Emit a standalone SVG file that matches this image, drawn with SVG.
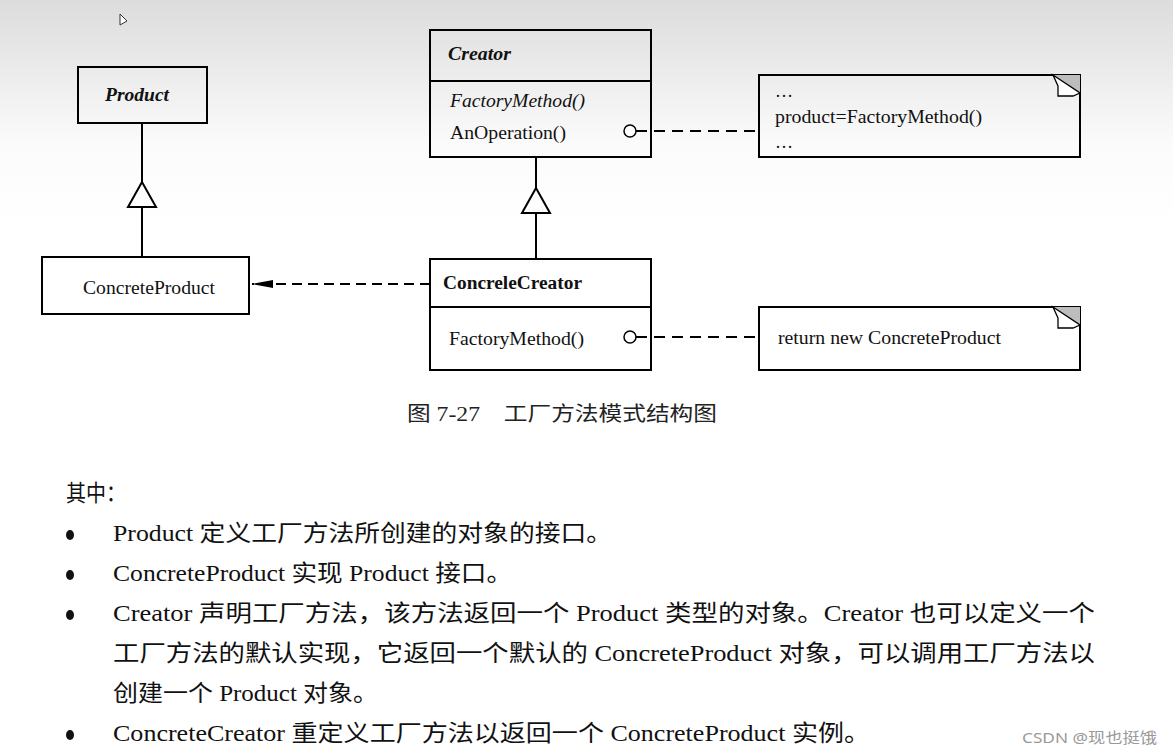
<svg xmlns="http://www.w3.org/2000/svg" width="1173" height="756" viewBox="0 0 1173 756">
<style>
.box{fill:none;stroke:#000;stroke-width:2}
.ln{stroke:#000;stroke-width:2;fill:none}
.dash{stroke:#000;stroke-width:2;fill:none;stroke-dasharray:10 6}
.t{font-family:"Liberation Serif","Noto Sans CJK SC",serif;font-size:18px;fill:#111}
.bi{font-weight:bold;font-style:italic}
.b{font-weight:bold}
.i{font-style:italic}
.body{font-family:"Liberation Serif","Noto Sans CJK SC",serif;font-size:23px;fill:#111}
.cap{font-family:"Liberation Serif","Noto Sans CJK SC",serif;font-size:20px;fill:#222}
.wm{font-family:"Noto Sans","Noto Sans CJK SC",sans-serif;font-size:15px;fill:#999}
.fold{fill:#bdbdbd}
.flap{fill:#fff;stroke:#000;stroke-width:1.3;stroke-linejoin:miter}
</style>
<defs>
<linearGradient id="bg" x1="0" y1="0" x2="0" y2="1">
<stop offset="0" stop-color="#dcdcdc"/>
<stop offset="0.19" stop-color="#fbfbfb"/>
<stop offset="0.3" stop-color="#ffffff"/>
</linearGradient>
<marker id="arr" markerWidth="22" markerHeight="12" refX="21" refY="6" orient="auto" markerUnits="userSpaceOnUse">
<path d="M0,2 L21,6 L0,10 Z" fill="#000"/>
</marker>
</defs>
<rect x="0" y="0" width="1173" height="756" fill="url(#bg)"/>
<path d="M120,14 L120,25 L127,21 Z" fill="#fff" stroke="#333" stroke-width="1"/>

<g id="connectors">
<line class="ln" x1="142" y1="123" x2="142" y2="182"/>
<polygon class="ln" points="142,182 128,207 156,207" fill="#fff"/>
<line class="ln" x1="142" y1="207" x2="142" y2="257"/>
<line class="ln" x1="536" y1="157" x2="536" y2="188"/>
<polygon class="ln" points="536,188 522,213 550,213" fill="#fff"/>
<line class="ln" x1="536" y1="213" x2="536" y2="259"/>
<line class="dash" x1="430" y1="284" x2="252" y2="284" marker-end="url(#arr)"/>
<circle cx="630" cy="131" r="6" fill="#fff" stroke="#000" stroke-width="1.5"/>
<line class="dash" x1="636" y1="131" x2="759" y2="131" style="stroke-dasharray:11 7"/>
<circle cx="630" cy="337" r="6" fill="#fff" stroke="#000" stroke-width="1.5"/>
<line class="dash" x1="636" y1="337" x2="759" y2="337" style="stroke-dasharray:11 7"/>
</g>

<g id="product">
<rect class="box" x="78" y="67" width="129" height="56"/>
<text class="t bi" x="105" y="101" textLength="64" lengthAdjust="spacingAndGlyphs">Product</text>
</g>

<g id="concreteproduct">
<rect class="box" x="42" y="257" width="207" height="57"/>
<text class="t" x="83" y="294" textLength="132" lengthAdjust="spacingAndGlyphs">ConcreteProduct</text>
</g>

<g id="creator">
<rect class="box" x="430" y="30" width="221" height="127"/>
<line class="ln" x1="430" y1="81" x2="651" y2="81"/>
<text class="t bi" x="448" y="60" textLength="63" lengthAdjust="spacingAndGlyphs">Creator</text>
<text class="t i" x="450" y="107" textLength="135" lengthAdjust="spacingAndGlyphs">FactoryMethod()</text>
<text class="t" x="450" y="139" textLength="116" lengthAdjust="spacingAndGlyphs">AnOperation()</text>
</g>

<g id="concretecreator">
<rect class="box" x="430" y="259" width="221" height="111"/>
<line class="ln" x1="430" y1="307" x2="651" y2="307"/>
<text class="t b" x="443" y="289" textLength="139" lengthAdjust="spacingAndGlyphs">ConcreleCreator</text>
<text class="t" x="449" y="345" textLength="135" lengthAdjust="spacingAndGlyphs">FactoryMethod()</text>
</g>

<g id="note1">
<rect class="box" x="759" y="75" width="321" height="82"/>
<polygon class="fold" points="1053,75 1080,75 1080,93"/>
<polygon class="flap" points="1053,75 1080,93 1073,96 1058,96 1058,86"/>
<text class="t" x="775" y="97">…</text>
<text class="t" x="775" y="123" textLength="207" lengthAdjust="spacingAndGlyphs">product=FactoryMethod()</text>
<text class="t" x="775" y="148">…</text>
</g>

<g id="note2">
<rect class="box" x="759" y="307" width="321" height="63"/>
<polygon class="fold" points="1053,307 1080,307 1080,325"/>
<polygon class="flap" points="1053,307 1080,325 1073,328 1058,328 1058,318"/>
<text class="t" x="778" y="344" textLength="223" lengthAdjust="spacingAndGlyphs">return new ConcreteProduct</text>
</g>

<text class="cap" x="407" y="421" textLength="310" lengthAdjust="spacingAndGlyphs">图 7-27　工厂方法模式结构图</text>

<g id="body">
<text class="body" x="66" y="501" textLength="60" lengthAdjust="spacingAndGlyphs">其中：</text>
<ellipse cx="70" cy="535" rx="4" ry="5" fill="#111"/>
<ellipse cx="70" cy="575" rx="4" ry="5" fill="#111"/>
<ellipse cx="70" cy="615" rx="4" ry="5" fill="#111"/>
<ellipse cx="70" cy="735" rx="4" ry="5" fill="#111"/>
<text class="body" x="113" y="541" textLength="499" lengthAdjust="spacingAndGlyphs">Product 定义工厂方法所创建的对象的接口。</text>
<text class="body" x="113" y="581" textLength="399" lengthAdjust="spacingAndGlyphs">ConcreteProduct 实现 Product 接口。</text>
<text class="body" x="113" y="621" textLength="982" lengthAdjust="spacingAndGlyphs">Creator 声明工厂方法，该方法返回一个 Product 类型的对象。Creator 也可以定义一个</text>
<text class="body" x="113" y="661" textLength="982" lengthAdjust="spacingAndGlyphs">工厂方法的默认实现，它返回一个默认的 ConcreteProduct 对象，可以调用工厂方法以</text>
<text class="body" x="113" y="701" textLength="265" lengthAdjust="spacingAndGlyphs">创建一个 Product 对象。</text>
<text class="body" x="113" y="741" textLength="757" lengthAdjust="spacingAndGlyphs">ConcreteCreator 重定义工厂方法以返回一个 ConcreteProduct 实例。</text>
</g>

<text class="wm" x="1022" y="743" textLength="135" lengthAdjust="spacingAndGlyphs">CSDN @现也挺饿</text>
</svg>
